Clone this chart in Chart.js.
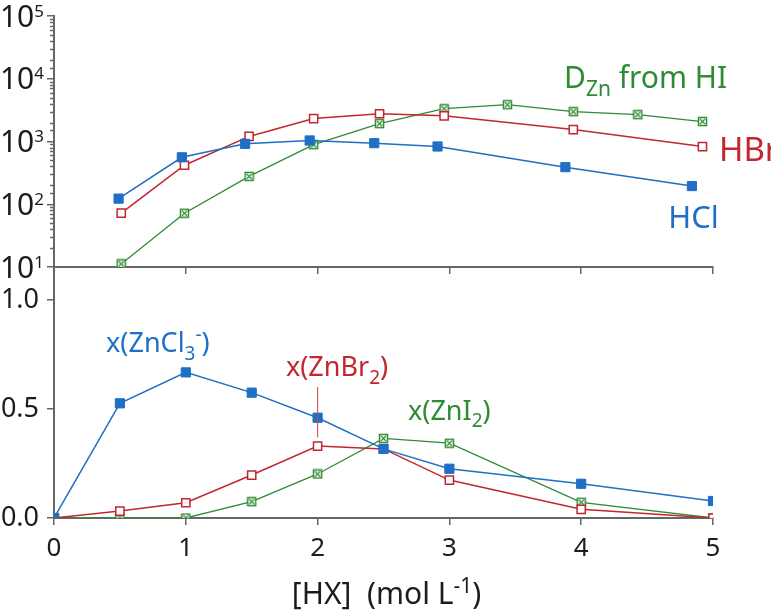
<!DOCTYPE html>
<html>
<head>
<meta charset="utf-8">
<script src="https://cdn.jsdelivr.net/npm/chart.js@4.4.0/dist/chart.umd.min.js"></script>
<style>
  html,body{margin:0;padding:0;background:#fff;}
  #wrap{position:relative;width:771px;height:613px;}
  #wrap canvas{position:absolute;left:0;top:0;}
</style>
</head>
<body>
<div id="wrap">
  <canvas id="topChart" width="771" height="613"></canvas>
  <canvas id="botChart" width="771" height="613"></canvas>
</div>
<script>
// ---- data ----
// top panel: distribution coefficient D_Zn (log scale)
const hclX  = [0.49, 0.97, 1.45, 1.94, 2.43, 2.91, 3.88, 4.84];
const hclD  = [123, 560, 918, 1038, 940, 833, 390, 195];
const hbrX  = [0.51, 0.99, 1.48, 1.97, 2.47, 2.96, 3.94, 4.92];
const hbrD  = [72, 418, 1205, 2317, 2770, 2570, 1550, 830];
const hiX   = [0.51, 0.99, 1.48, 1.97, 2.47, 2.96, 3.44, 3.94, 4.43, 4.92];
const hiD   = [11.2, 72, 278, 890, 1930, 3330, 3860, 2990, 2680, 2080];

// bottom panel: species fractions
const hx        = [0, 0.5, 1, 1.5, 2, 2.5, 3, 4, 5];
const xZnCl3    = [0, 0.526, 0.668, 0.575, 0.46, 0.317, 0.226, 0.157, 0.078];
const xZnBr2    = [0, 0.032, 0.07, 0.197, 0.33, 0.317, 0.174, 0.04, 0];
const xZnI2     = [0, 0, 0, 0.075, 0.202, 0.365, 0.343, 0.072, 0];

const BLUE='#1f6fc5', RED='#c1272d', GREEN='#2f8a34', AXIS='#666', TXT='#1c1c1c';
const FONT='"Noto Sans", "DejaVu Sans", sans-serif';

const pts = (xs, ys)=>xs.map((x,i)=>({x, y: ys[i]}));
const isPow10 = v => Math.abs(Math.log10(v) - Math.round(Math.log10(v))) < 1e-9;

// square with an x inside, for the HI / ZnI2 series
function crossBox(color){
  const c=document.createElement('canvas'); c.width=c.height=11;
  const g=c.getContext('2d');
  g.fillStyle='#fff'; g.fillRect(1,1,9,9);
  g.strokeStyle=color; g.lineWidth=1.5; g.strokeRect(1.5,1.5,8,8);
  g.lineWidth=1.1; g.beginPath();
  g.moveTo(3,3); g.lineTo(8,8); g.moveTo(8,3); g.lineTo(3,8); g.stroke();
  return c;
}
const boxX = crossBox(GREEN);

// text with sub/superscripts; align = left | right | center
function drawRich(ctx, parts, x, y, size, color, align){
  ctx.save();
  ctx.fillStyle=color; ctx.textBaseline='alphabetic'; ctx.textAlign='left';
  const fontOf = p => `${Math.round(size*(p.k || ((p.sub||p.sup) ? 0.7 : 1)))}px ${FONT}`;
  let w=0;
  parts.forEach(p=>{ ctx.font=fontOf(p); w+=ctx.measureText(p.t).width; });
  if(align==='right') x-=w; else if(align==='center') x-=w/2;
  parts.forEach(p=>{
    ctx.font = fontOf(p);
    const dy = p.dy!==undefined ? p.dy*size : (p.sub ? size*0.28 : (p.sup ? -size*0.42 : 0));
    ctx.fillText(p.t, x, y+dy);
    x += ctx.measureText(p.t).width;
  });
  ctx.restore();
}

const topLabels = [
  {parts:[{t:'D'},{t:'Zn',sub:true},{t:' from HI'}], x:3.87, y:7200, color:GREEN, size:30},
  {parts:[{t:'HBr'}], x:5.045, y:482, color:RED, size:33},
  {parts:[{t:'HCl'}], x:4.66, y:41.6, color:BLUE, size:31}
];
const botLabels = [
  {parts:[{t:'x(ZnCl'},{t:'3',sub:true},{t:'-',sup:true},{t:')'}], x:0.395, y:0.761, color:BLUE, size:27},
  {parts:[{t:'x(ZnBr'},{t:'2',sub:true},{t:')'}], x:1.76, y:0.651, color:RED, size:27},
  {parts:[{t:'x(ZnI'},{t:'2',sub:true},{t:')'}], x:2.686, y:0.45, color:GREEN, size:27}
];

const labelPlugin = (list)=>({
  id:'labels',
  afterDatasetsDraw(chart){
    const {x, y} = chart.scales;
    list.forEach(l=>drawRich(chart.ctx, l.parts, x.getPixelForValue(l.x), y.getPixelForValue(l.y), l.size, l.color, 'left'));
  }
});

// minor ticks + 10^n labels on the log axis
const logAxisDeco = {
  id:'logAxisDeco',
  afterDraw(chart){
    const s=chart.scales.y, ctx=chart.ctx;
    ctx.save(); ctx.strokeStyle=AXIS; ctx.lineWidth=1.5;
    s.ticks.forEach(t=>{
      const py=s.getPixelForValue(t.value);
      if(isPow10(t.value)){
        const n=Math.round(Math.log10(t.value));
        drawRich(ctx, [{t:'10'},{t:String(n), k:0.55, dy:-0.33}], s.right-10, py+10.5, 30, TXT, 'right');
        return;
      }
      const yy=Math.round(py)+0.5;
      ctx.beginPath(); ctx.moveTo(s.right-4, yy); ctx.lineTo(s.right, yy); ctx.stroke();
    });
    ctx.restore();
  }
};

const lineDs = (label, data, color, style, extra)=>Object.assign({
  label, data, borderColor: color, backgroundColor: color, borderWidth: 1.5,
  pointStyle: style, pointRadius: 6.5, pointBorderWidth: 1,
  pointBorderColor: color, pointBackgroundColor: color, tension: 0
}, extra||{});

const noPad = (s)=>{ s.paddingTop=0; s.paddingBottom=0; s.paddingLeft=0; s.paddingRight=0; };

// ---- top chart ----
const topChart = new Chart(document.getElementById('topChart'), {
  type:'line',
  data:{ datasets:[
    lineDs('HCl', pts(hclX, hclD), BLUE, 'rect'),
    lineDs('HBr', pts(hbrX, hbrD), RED, 'rect', {pointBackgroundColor:'#fff', pointBorderWidth:1.5, pointRadius:5.8}),
    lineDs('HI',  pts(hiX, hiD), GREEN, boxX, {borderWidth:1.3})
  ]},
  options:{
    responsive:false, animation:false, devicePixelRatio:1,
    layout:{ padding:{ left:0, top:16, right:58, bottom:613-267-10 } },
    plugins:{ legend:{display:false}, tooltip:{enabled:false} },
    scales:{
      x:{ type:'linear', min:0, max:5,
          ticks:{ stepSize:1, callback:()=>'', font:{size:1} },
          grid:{ drawOnChartArea:false, drawTicks:true, tickLength:7, color:AXIS, lineWidth:1.5 },
          border:{ display:true, color:AXIS, width:2 },
          afterFit:(s)=>{ s.height=10; noPad(s); } },
      y:{ type:'logarithmic', min:10, max:100000,
          ticks:{ autoSkip:false, callback:()=>'', font:{size:1} },
          grid:{ drawOnChartArea:false, drawTicks:true, tickLength:7, lineWidth:1.5,
                 color:(c)=> c.tick && isPow10(c.tick.value) ? AXIS : 'rgba(0,0,0,0)' },
          border:{ display:true, color:AXIS, width:2 },
          afterFit:(s)=>{ s.width=54; noPad(s); } }
    }
  },
  plugins:[logAxisDeco, labelPlugin(topLabels)]
});

// joins the two y axes through the gap and writes the x-axis title
const axisJoin = {
  id:'axisJoin',
  afterDraw(chart){
    const ctx=chart.ctx, a=chart.chartArea;
    const yTop = topChart.scales.y.getPixelForValue(10);
    ctx.save(); ctx.strokeStyle=AXIS; ctx.lineWidth=2;
    ctx.beginPath(); ctx.moveTo(a.left, yTop); ctx.lineTo(a.left, a.top); ctx.stroke();
    ctx.restore();
    drawRich(ctx, [{t:'[HX]  (mol L'},{t:'-1',sup:true, dy:-0.36},{t:')'}],
             (a.left+a.right)/2+3, a.bottom+86, 30, TXT, 'center');
  }
};

// ---- bottom chart ----
new Chart(document.getElementById('botChart'), {
  type:'line',
  data:{ datasets:[
    { label:'pointer', data:[{x:2,y:0.6},{x:2,y:0.37}], borderColor:'rgba(200,70,70,0.55)',
      borderWidth:1, pointRadius:0 },
    lineDs('ZnCl3-', pts(hx, xZnCl3), BLUE, 'rect'),
    lineDs('ZnBr2',  pts(hx, xZnBr2), RED, 'rect', {pointBackgroundColor:'#fff', pointBorderWidth:1.5, pointRadius:5.8}),
    lineDs('ZnI2',   pts(hx, xZnI2), GREEN, boxX, {borderWidth:1.3})
  ]},
  options:{
    responsive:false, animation:false, devicePixelRatio:1,
    layout:{ padding:{ left:0, top:300, right:58, bottom:0 } },
    plugins:{ legend:{display:false}, tooltip:{enabled:false} },
    scales:{
      x:{ type:'linear', min:0, max:5,
          ticks:{ stepSize:1, padding:8, color:TXT, font:{family:FONT, size:26} },
          grid:{ drawOnChartArea:false, drawTicks:true, tickLength:7, color:AXIS, lineWidth:1.5 },
          border:{ display:true, color:AXIS, width:2 },
          afterFit:(s)=>{ s.height=95; noPad(s); } },
      y:{ type:'linear', min:0, max:1,
          ticks:{ stepSize:0.5, padding:8, color:TXT, font:{family:FONT, size:27},
                  callback:(v)=>Number(v).toFixed(1) },
          grid:{ drawOnChartArea:false, drawTicks:true, tickLength:7, color:AXIS, lineWidth:1.5 },
          border:{ display:true, color:AXIS, width:2 },
          afterFit:(s)=>{ s.width=54; noPad(s); } }
    }
  },
  plugins:[axisJoin, labelPlugin(botLabels)]
});
</script>
</body>
</html>
